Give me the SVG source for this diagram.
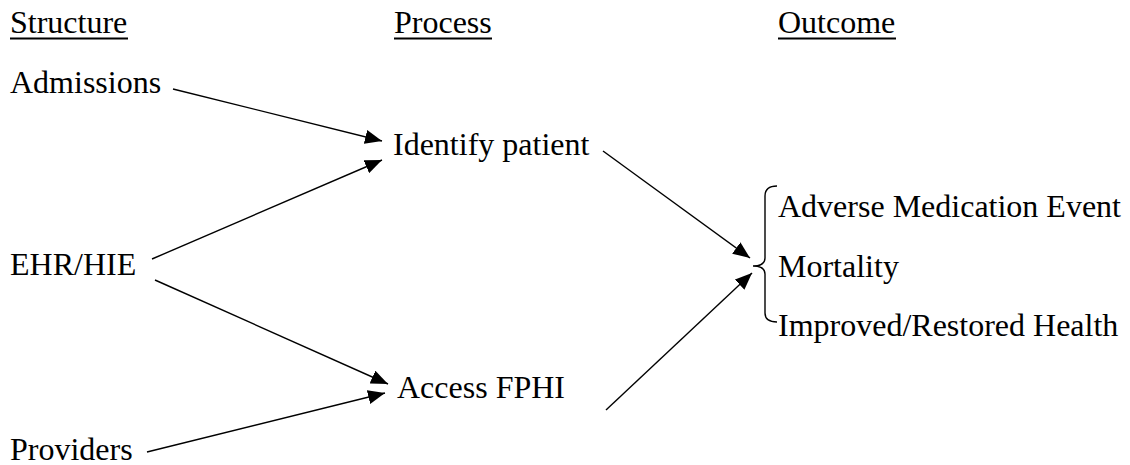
<svg xmlns="http://www.w3.org/2000/svg" width="1130" height="465" viewBox="0 0 1130 465">
<style>
text{font-family:"Liberation Serif","Times New Roman",serif;font-size:32px;fill:#000}
.ul{stroke:#000;stroke-width:2.2}
.c{stroke:#000;stroke-width:1.4;fill:none}
</style>
<defs>
<marker id="ah" markerUnits="userSpaceOnUse" markerWidth="18" markerHeight="14" refX="17" refY="7" orient="auto">
<path d="M0,0 L17,7 L0,14 z" fill="#000"/>
</marker>
</defs>
<rect width="1130" height="465" fill="#fff"/>
<g id="headers">
<text x="10" y="33">Structure</text>
<line class="ul" x1="10" y1="38.5" x2="128" y2="38.5"/>
<text x="394" y="33">Process</text>
<line class="ul" x1="394" y1="38.5" x2="492" y2="38.5"/>
<text x="778" y="33">Outcome</text>
<line class="ul" x1="778" y1="38.5" x2="896" y2="38.5"/>
</g>
<g id="admissions"><text x="10" y="93">Admissions</text></g>
<g id="ehr"><text x="10" y="275">EHR/HIE</text></g>
<g id="providers"><text x="10" y="460">Providers</text></g>
<g id="identify"><text x="393" y="155">Identify patient</text></g>
<g id="access"><text x="397" y="398">Access FPHI</text></g>
<g id="outcomes">
<path class="c" d="M777,186 Q765,186 765,196 L765,258 Q765,266 753,266 Q765,266 765,274 L765,313 Q765,322 777,322"/>
<text x="778" y="217">Adverse Medication Event</text>
<text x="778" y="277">Mortality</text>
<text x="778" y="336">Improved/Restored Health</text>
</g>
<g id="connectors">
<line class="c" x1="173" y1="89" x2="382" y2="141" marker-end="url(#ah)"/>
<line class="c" x1="152" y1="259" x2="382" y2="160" marker-end="url(#ah)"/>
<line class="c" x1="155" y1="280" x2="388" y2="384" marker-end="url(#ah)"/>
<line class="c" x1="147" y1="452" x2="385" y2="393" marker-end="url(#ah)"/>
<line class="c" x1="603" y1="151" x2="750" y2="258" marker-end="url(#ah)"/>
<line class="c" x1="606" y1="410" x2="752" y2="273" marker-end="url(#ah)"/>
</g>
</svg>
